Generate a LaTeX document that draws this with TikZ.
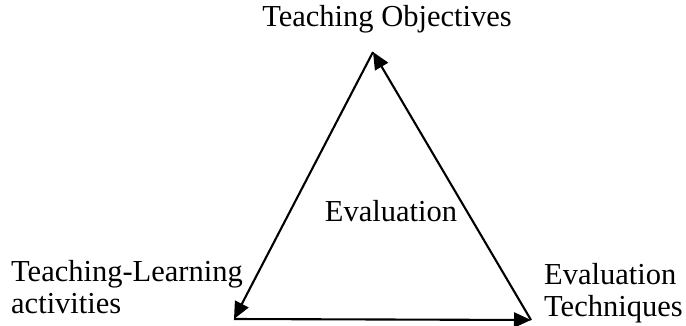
\documentclass[tikz,border=0pt]{standalone}
\usepackage{fontspec}
\setmainfont{Liberation Serif}
\usetikzlibrary{arrows.meta}
\begin{document}
\begin{tikzpicture}[x=1pt,y=-1pt,
  lbl/.style={font=\fontsize{30.5}{32}\selectfont, inner sep=0pt},
  edge/.style={line width=2.1pt, -{Triangle[length=17pt,width=15pt]}}]
\useasboundingbox (0,0) rectangle (686,325);
\coordinate (T) at (373,52);
\coordinate (L) at (234,319);
\coordinate (R) at (531,320);
\node[lbl] (obj) at (387,19) {Teaching Objectives};
\node[lbl] (eval) at (391,211) {Evaluation};
\node[lbl, align=left, anchor=west] (tla) at (11,287) {Teaching-Learning\\activities};
\node[lbl, align=left, anchor=west] (tech) at (544,293) {Evaluation\\Techniques};
\draw[edge] (T) -- (L);
\draw[edge] (L) -- (R);
\draw[edge] (R) -- (T);
\end{tikzpicture}
\end{document}
